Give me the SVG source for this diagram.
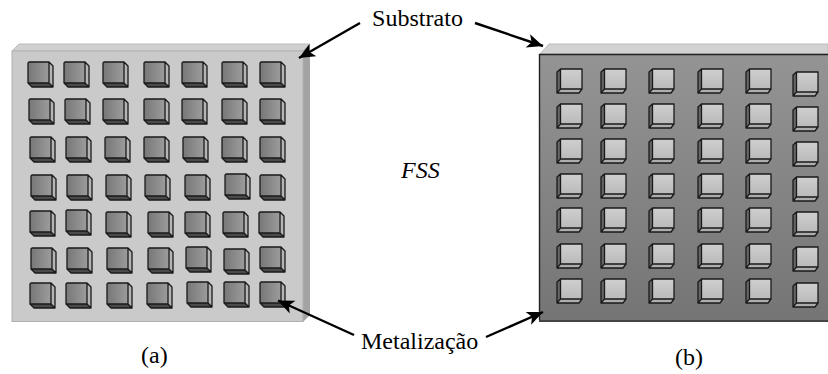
<svg xmlns="http://www.w3.org/2000/svg" width="828" height="374" viewBox="0 0 828 374">
<style>
text{font-family:"Liberation Serif","Times New Roman",serif;font-size:24px;fill:#000}
.a{fill:none;stroke:#000;stroke-width:2.4;marker-end:url(#ah)}
.o{stroke:#1a1a1a;stroke-width:1.3;stroke-linejoin:round}
</style>
<defs>
<marker id="ah" markerUnits="userSpaceOnUse" markerWidth="20" markerHeight="16" refX="16" refY="7" orient="auto"><path d="M0 0L16 7L0 14L4 7Z" fill="#000"/></marker>
<linearGradient id="m"><stop offset="0" stop-color="#777"/><stop offset="1" stop-color="#9c9c9c"/></linearGradient>
<linearGradient id="p" x1="0" y1="0" x2="0" y2="1"><stop offset="0" stop-color="#cfcfcf"/><stop offset="1" stop-color="#bababa"/></linearGradient>
<linearGradient id="d" x1="0" y1="0" x2="0" y2="1"><stop offset="0" stop-color="#949494"/><stop offset="1" stop-color="#757575"/></linearGradient>
<g id="l">
<path d="M21 0L25 4V25H4L0 21H21Z" fill="#b5b5b5"/>
<path d="M0 21H21L25 25H4Z" fill="#4a4a4a"/>
<rect width="21" height="21" fill="url(#m)"/>
<path d="M1 0H21L25 4V25H4L0 21V1ZM21 0V21M0 21H21L25 25" fill="none" class="o"/>
</g>
<g id="r">
<path d="M0 24L3.500 20V0L0 3Z" fill="#666"/>
<rect x="3.500" y="0" width="21.500" height="20" fill="url(#p)"/>
<path d="M3.500 20H25L22 24H0Z" fill="#aeaeae"/>
<path d="M3.500 0H25V20L22 24H0V3ZM3.500 0V20H25M3.500 20L0 24" fill="none" class="o"/>
</g>
</defs>
<g id="plate-a">
<path d="M12 51L19 44H310L303 51Z" fill="#d0d0d0" stroke="#bbb"/>
<path d="M303 51L310 44V315L303 322Z" fill="#a3a3a3"/>
<rect x="12" y="51" width="291" height="270.500" fill="#cacaca" stroke="#b0b0b0"/>
</g>
<g id="cells-a">
<use href="#l" x="28" y="62"/><use href="#l" x="64" y="62"/><use href="#l" x="103" y="62"/><use href="#l" x="144" y="62"/><use href="#l" x="182" y="62"/><use href="#l" x="222" y="62"/><use href="#l" x="260" y="62"/>
<use href="#l" x="29" y="99"/><use href="#l" x="65" y="99"/><use href="#l" x="103" y="99"/><use href="#l" x="144" y="99"/><use href="#l" x="182" y="99"/><use href="#l" x="222" y="99"/><use href="#l" x="260" y="99"/>
<use href="#l" x="30" y="137"/><use href="#l" x="66" y="137"/><use href="#l" x="105" y="137"/><use href="#l" x="144" y="137"/><use href="#l" x="183" y="137"/><use href="#l" x="222" y="137"/><use href="#l" x="260" y="137"/>
<use href="#l" x="31" y="175"/><use href="#l" x="67" y="175"/><use href="#l" x="106" y="175"/><use href="#l" x="145" y="175"/><use href="#l" x="185" y="175"/><use href="#l" x="225" y="174"/><use href="#l" x="260" y="175"/>
<use href="#l" x="30" y="211"/><use href="#l" x="66" y="210"/><use href="#l" x="106" y="212"/><use href="#l" x="148" y="212"/><use href="#l" x="185" y="212"/><use href="#l" x="223" y="212"/><use href="#l" x="259" y="212"/>
<use href="#l" x="31" y="248"/><use href="#l" x="67" y="248"/><use href="#l" x="107" y="248"/><use href="#l" x="148" y="248"/><use href="#l" x="186" y="247"/><use href="#l" x="224" y="249"/><use href="#l" x="260" y="247"/>
<use href="#l" x="30" y="283"/><use href="#l" x="66" y="283"/><use href="#l" x="107" y="283"/><use href="#l" x="147" y="283"/><use href="#l" x="187" y="282"/><use href="#l" x="224" y="282"/><use href="#l" x="260" y="282"/>
</g>
<g id="plate-b">
<path d="M540 54L549 44H828V54Z" fill="#d2d2d2" stroke="#bbb"/>
<rect x="539" y="54" width="289" height="266" fill="url(#d)"/>
<path d="M539.500 320V54.500H828" fill="none" stroke="#222" stroke-width="1.400"/>
<rect x="539" y="320" width="289" height="2" fill="#444"/>
</g>
<g id="cells-b">
<use href="#r" x="557" y="69"/><use href="#r" x="601" y="69"/><use href="#r" x="649" y="69"/><use href="#r" x="698" y="69"/><use href="#r" x="746" y="69"/><use href="#r" x="793" y="72"/>
<use href="#r" x="557" y="104"/><use href="#r" x="601" y="104"/><use href="#r" x="649" y="104"/><use href="#r" x="698" y="104"/><use href="#r" x="746" y="104"/><use href="#r" x="793" y="107"/>
<use href="#r" x="557" y="139"/><use href="#r" x="601" y="139"/><use href="#r" x="649" y="139"/><use href="#r" x="698" y="139"/><use href="#r" x="746" y="139"/><use href="#r" x="793" y="142"/>
<use href="#r" x="557" y="174"/><use href="#r" x="601" y="174"/><use href="#r" x="649" y="174"/><use href="#r" x="698" y="174"/><use href="#r" x="746" y="174"/><use href="#r" x="793" y="177"/>
<use href="#r" x="557" y="208"/><use href="#r" x="601" y="208"/><use href="#r" x="649" y="208"/><use href="#r" x="698" y="208"/><use href="#r" x="746" y="208"/><use href="#r" x="793" y="212"/>
<use href="#r" x="557" y="244"/><use href="#r" x="601" y="244"/><use href="#r" x="649" y="244"/><use href="#r" x="698" y="244"/><use href="#r" x="746" y="244"/><use href="#r" x="793" y="247"/>
<use href="#r" x="557" y="279"/><use href="#r" x="601" y="279"/><use href="#r" x="649" y="279"/><use href="#r" x="698" y="279"/><use href="#r" x="746" y="279"/><use href="#r" x="793" y="283"/>
</g>
<g id="connectors">
<path class="a" d="M360 23L299 58"/>
<path class="a" d="M475 23L543 46"/>
<path class="a" d="M354 335L278 300.500"/>
<path class="a" d="M486 337L543 312"/>
</g>
<g id="labels">
<text x="372" y="26" textLength="91">Substrato</text>
<text x="401" y="178" font-style="italic">FSS</text>
<text x="361" y="349">Metalização</text>
<text x="141" y="363">(a)</text>
<text x="675" y="365">(b)</text>
</g>
</svg>
